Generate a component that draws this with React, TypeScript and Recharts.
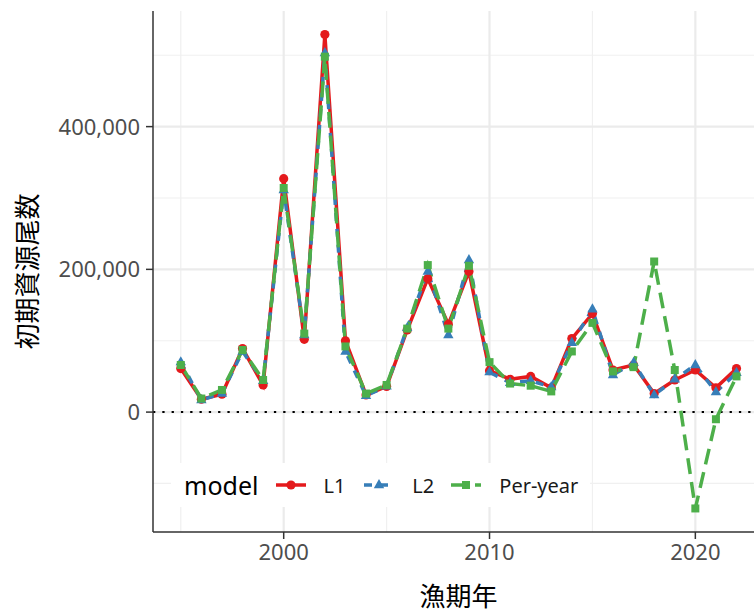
import {
  LineChart,
  Line,
  XAxis,
  YAxis,
  CartesianGrid,
  ReferenceLine,
  Legend,
} from "recharts";

const years = [
  1995, 1996, 1997, 1998, 1999, 2000, 2001, 2002, 2003, 2004, 2005, 2006, 2007, 2008,
  2009, 2010, 2011, 2012, 2013, 2014, 2015, 2016, 2017, 2018, 2019, 2020, 2021, 2022,
];

const l1 = [
  61000, 18000, 25000, 89000, 38000, 327000, 102000, 529000, 100000, 24000, 36000, 115000,
  187000, 123000, 197000, 58000, 46000, 50000, 34000, 103000, 138000, 59000, 66000, 26000,
  45000, 59000, 34000, 61000,
];

const l2 = [
  70000, 17000, 26000, 85000, 44000, 311000, 108000, 503000, 85000, 23000, 36000, 118000,
  197000, 108000, 213000, 56000, 41000, 44000, 35000, 97000, 144000, 52000, 69000, 24000,
  46000, 66000, 28000, 55000,
];

const perYear = [
  66000, 19000, 31000, 87000, 45000, 314000, 110000, 498000, 92000, 26000, 38000, 117000,
  206000, 117000, 205000, 70000, 40000, 37000, 29000, 85000, 125000, 57000, 63000, 211000,
  59000, -135000, -10000, 50000,
];

const xTicks = [2000, 2010, 2020];
const xMinor = [1995, 2005, 2015];
const yTicks = [0, 200000, 400000];
const yMinor = [-100000, 100000, 300000, 500000];

const RED = "#E41A1C";
const BLUE = "#377EB8";
const GREEN = "#4DAF4A";

const data = years.map((year, i) => ({
  year,
  L1: l1[i],
  L2: l2[i],
  PerYear: perYear[i],
}));

const LATIN = "'Noto Sans', 'Noto Sans CJK JP', sans-serif";
const CJK = "'Noto Sans CJK JP', 'Noto Sans', sans-serif";

function circleDot(props: any) {
  const { cx, cy, index } = props;
  if (cx == null || cy == null) return <g key={`c${index}`} />;
  return <circle key={`c${index}`} cx={cx} cy={cy} r={4.6} fill={RED} />;
}

function triangleDot(props: any) {
  const { cx, cy, index } = props;
  if (cx == null || cy == null) return <g key={`t${index}`} />;
  const pts = `${cx},${cy - 6} ${cx - 5.2},${cy + 3.2} ${cx + 5.2},${cy + 3.2}`;
  return <polygon key={`t${index}`} points={pts} fill={BLUE} />;
}

function squareDot(props: any) {
  const { cx, cy, index } = props;
  if (cx == null || cy == null) return <g key={`s${index}`} />;
  return <rect key={`s${index}`} x={cx - 4} y={cy - 4} width={8} height={8} fill={GREEN} />;
}

function XTick(props: any) {
  const { x, y, payload } = props;
  return (
    <text
      x={x}
      y={y + 16}
      textAnchor="middle"
      fill="#4d4d4d"
      fontFamily={LATIN}
      fontSize={22}
    >
      {String(payload.value)}
    </text>
  );
}

function YTick(props: any) {
  const { x, y, payload } = props;
  return (
    <text
      x={x}
      y={y + 8}
      textAnchor="end"
      fill="#4d4d4d"
      fontFamily={LATIN}
      fontSize={22}
    >
      {Number(payload.value).toLocaleString("en-US")}
    </text>
  );
}

function YTitle(props: any) {
  const vb = props.viewBox ?? { x: 0, y: 11, width: 153, height: 521 };
  const x = vb.x + 25;
  const y = vb.y + vb.height / 2;
  return (
    <text
      x={x}
      y={y}
      transform={`rotate(-90 ${x} ${y})`}
      textAnchor="middle"
      dominantBaseline="central"
      fill="#000"
      fontFamily={CJK}
      fontSize={26}
    >
      初期資源尾数
    </text>
  );
}

function XTitle(props: any) {
  const vb = props.viewBox ?? { x: 153, y: 532, width: 601, height: 80 };
  // the panel runs past the right edge of the picture, so centre on the full panel
  const x = vb.x + vb.width / 2 + 5;
  const y = vb.y + 62;
  return (
    <text
      x={x}
      y={y}
      textAnchor="middle"
      dominantBaseline="central"
      fill="#000"
      fontFamily={CJK}
      fontSize={26}
    >
      漁期年
    </text>
  );
}

function LegendKey({ color, dash, marker }: { color: string; dash?: string; marker: string }) {
  return (
    <svg width={30} height={12} style={{ display: "block" }}>
      <line x1={0} y1={6} x2={30} y2={6} stroke={color} strokeWidth={3.5} strokeDasharray={dash} />
      {marker === "circle" && <circle cx={15} cy={6} r={4.6} fill={color} />}
      {marker === "triangle" && <polygon points="15,0 9.8,9.2 20.2,9.2" fill={color} />}
      {marker === "square" && <rect x={11} y={2} width={8} height={8} fill={color} />}
    </svg>
  );
}

function renderLegend() {
  const label = { fontFamily: LATIN, fontSize: 20, color: "#1a1a1a" };
  return (
    <div
      style={{
        display: "flex",
        alignItems: "center",
        height: 44,
        paddingLeft: 13,
        background: "#fff",
      }}
    >
      <span style={{ fontFamily: LATIN, fontSize: 25, color: "#000", marginRight: 18 }}>model</span>
      <LegendKey color={RED} marker="circle" />
      <span style={{ ...label, marginLeft: 17, marginRight: 19 }}>L1</span>
      <LegendKey color={BLUE} dash="8 8" marker="triangle" />
      <span style={{ ...label, marginLeft: 18, marginRight: 17 }}>L2</span>
      <LegendKey color={GREEN} dash="16 8" marker="square" />
      <span style={{ ...label, marginLeft: 18 }}>Per-year</span>
    </div>
  );
}

export default function App() {
  // right end of the panel is cut by the picture edge
  const xDomain = [1993.65, 2022.85];
  return (
    <div
      style={{
        position: "fixed",
        left: 0,
        top: 0,
        width: 754,
        height: 612,
        overflow: "hidden",
        background: "#fff",
      }}
    >
      <LineChart
        width={754}
        height={612}
        data={data}
        margin={{ top: 11, right: 0, bottom: 0, left: 0 }}
      >
        <CartesianGrid
          verticalValues={xMinor}
          horizontalValues={yMinor}
          stroke="#f0f0f0"
          strokeWidth={1.2}
        />
        <CartesianGrid
          verticalValues={xTicks}
          horizontalValues={yTicks}
          stroke="#ebebeb"
          strokeWidth={2.2}
        />
        <XAxis
          dataKey="year"
          type="number"
          domain={xDomain}
          allowDataOverflow
          ticks={xTicks}
          height={80}
          tickSize={7}
          tickMargin={5}
          axisLine={{ stroke: "#333333", strokeWidth: 1.5 }}
          tickLine={{ stroke: "#333333", strokeWidth: 1.5 }}
          tick={XTick}
          label={(p: any) => <XTitle {...p} />}
        />
        <XAxis
          xAxisId="top"
          orientation="top"
          dataKey="year"
          type="number"
          domain={xDomain}
          allowDataOverflow
          height={0}
          tick={false}
          tickLine={false}
          axisLine={{ stroke: "#333333", strokeWidth: 1.5 }}
        />
        <YAxis
          type="number"
          domain={[-168000, 562000]}
          allowDataOverflow
          ticks={yTicks}
          width={153}
          tickSize={7}
          tickMargin={6}
          axisLine={{ stroke: "#333333", strokeWidth: 1.5 }}
          tickLine={{ stroke: "#333333", strokeWidth: 1.5 }}
          tick={YTick}
          label={(p: any) => <YTitle {...p} />}
        />
        <ReferenceLine y={0} stroke="#000" strokeWidth={2} strokeDasharray="2.3 7" />
        <Legend
          layout="horizontal"
          verticalAlign="middle"
          align="center"
          width={419}
          height={44}
          wrapperStyle={{ left: 171, top: 463, width: 419, height: 44 }}
          content={renderLegend}
        />
        {/* lines first, then points on top, like ggplot */}
        <Line dataKey="L1" stroke={RED} strokeWidth={3.5} dot={false} activeDot={false} isAnimationActive={false} />
        <Line dataKey="L2" stroke={BLUE} strokeWidth={3.5} strokeDasharray="8 8" dot={false} activeDot={false} isAnimationActive={false} />
        <Line dataKey="PerYear" stroke={GREEN} strokeWidth={3.5} strokeDasharray="16 8" dot={false} activeDot={false} isAnimationActive={false} />
        <Line dataKey="L1" stroke="none" dot={circleDot} activeDot={false} isAnimationActive={false} />
        <Line dataKey="L2" stroke="none" dot={triangleDot} activeDot={false} isAnimationActive={false} />
        <Line dataKey="PerYear" stroke="none" dot={squareDot} activeDot={false} isAnimationActive={false} />
      </LineChart>
    </div>
  );
}
